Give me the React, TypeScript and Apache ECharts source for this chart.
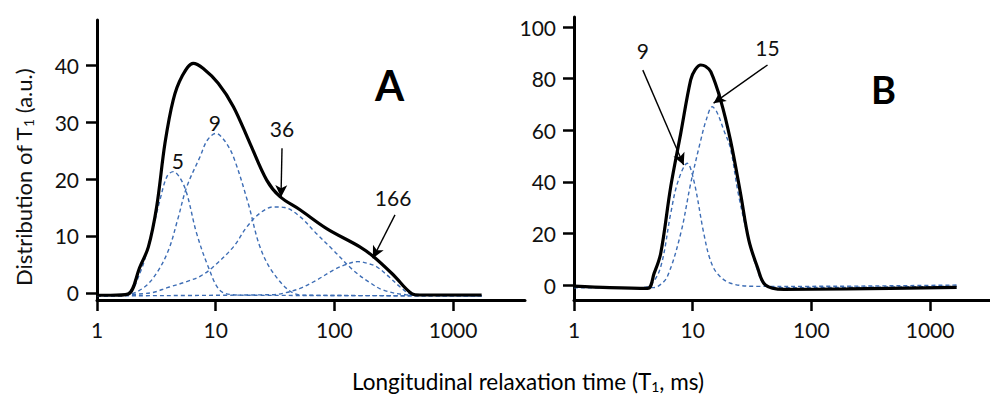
import React, { useEffect, useRef } from "react";
import * as echarts from "echarts";

// Panel A (x: T1 in ms, y: distribution a.u.)
const totalA: [number, number][] = [
  [1, -0.4], [1.3, -0.4], [1.82, -0.2], [2.3, 4.6], [2.71, 8.1], [3.18, 15.1], [3.74, 26.3],
  [4.39, 33.9], [5.17, 37.9], [6.47, 40.3], [7.86, 39.4], [10.5, 36.8], [14.1, 32.7],
  [19.4, 26.3], [26.9, 19.8], [34.8, 16.9], [51.3, 14.6], [86.1, 11.3], [164, 8.1],
  [213, 6.4], [313, 3.2], [448, -0.1], [526, -0.35], [1000, -0.35], [1740, -0.35],
];
const compA5: [number, number][] = [
  [1, -0.5], [1.3, -0.5], [1.8, -0.3], [2.3, 3.5], [2.8, 9.3], [3.39, 16.3], [3.9, 20.5],
  [4.39, 21.3], [5.0, 20.2], [5.7, 17.5], [6.9, 10.5], [8.65, 4.6], [10.8, 0.5], [14, -0.3],
  [20, -0.4], [1740, -0.5],
];
const compA9: [number, number][] = [
  [1, -0.5], [1.8, -0.3], [2.5, 1], [3.18, 3.5], [4.0, 7.5], [4.8, 13], [5.7, 18.6],
  [7.38, 23.9], [8.5, 26.8], [10.05, 28.0], [11.8, 26.8], [14.1, 23.9], [18.8, 15.7],
  [23.6, 8.1], [30.6, 3.5], [45, 0], [60, -0.4], [1740, -0.5],
];
const compA36: [number, number][] = [
  [1, -0.5], [2.8, 0], [4, 1], [5.7, 2.0], [7.5, 3], [9.55, 4.6], [14.1, 8.1], [18.3, 11.6],
  [23.6, 14], [30.6, 15.1], [38, 15], [51.3, 13.4], [70, 10.5], [98, 7.5], [144, 4.0],
  [200, 1.8], [259, 0.5], [400, -0.3], [600, -0.4], [1740, -0.5],
];
const compA166: [number, number][] = [
  [1, -0.5], [30, -0.3], [38, 0], [51.3, 0.8], [70, 2.2], [98, 4.0], [125, 5.0], [158, 5.5],
  [190, 5.2], [227, 4.6], [290, 2.8], [356, 1.1], [450, -0.3], [600, -0.4], [1740, -0.5],
];

// Panel B
const totalB: [number, number][] = [
  [1, -0.4], [2, -1], [4.16, -1.3], [4.73, 4.5], [5.38, 12.3], [6.53, 38.1], [7.93, 58.8],
  [9.62, 79.5], [10.5, 83.5], [11.7, 85.3], [12.8, 84.8], [14.2, 82.7], [17.2, 71.7],
  [20.8, 56.2], [25.3, 35.5], [29.7, 17.4], [35, 7.1], [41, 0], [58.5, -1.7], [200, -1.5],
  [1675, -0.9],
];
const compB9: [number, number][] = [
  [1, -1], [3.5, -1], [4.4, 0], [5.38, 7.1], [6.53, 27.8], [7.5, 40], [9.0, 47.2],
  [10.2, 40.7], [12.4, 20], [14, 10], [16.1, 4.5], [20.8, 0.7], [35, -0.5], [100, -0.5],
  [1675, 0],
];
const compB15: [number, number][] = [
  [1, -1], [4.5, -1], [5.1, -0.5], [6.1, 3.2], [7.93, 20], [9.62, 39.4], [11.7, 56.2],
  [13, 64], [14.6, 69.1], [16, 67], [18.3, 60], [20.8, 53], [24.2, 35.5], [29.7, 17.4],
  [35, 6], [41, 0], [58.5, -1], [1675, -0.5],
];

const xTicks = [1, 10, 100, 1000];
const yTicksA = [0, 10, 20, 30, 40];
const yTicksB = [0, 20, 40, 60, 80, 100];

// Annotations: label position and arrow (from -> to), in data coordinates
const labelsA = [
  { text: "5", at: [4.81, 23.2] },
  { text: "9", at: [9.85, 30] },
  { text: "36", at: [36.2, 28.8] },
  { text: "166", at: [312, 16.7] },
];
const arrowsA = [
  { from: [36.2, 25.4], to: [35.5, 16.8] },
  { from: [324, 13.7], to: [211, 6.1] },
];
const labelsB = [
  { text: "9", at: [3.8, 91.1] },
  { text: "15", at: [42.7, 92.2] },
];
const arrowsB = [
  { from: [3.8, 83.3], to: [8.4, 46.5] },
  { from: [42.7, 85.3], to: [15, 70.5] },
];

const FONT = "Lato, 'Open Sans', sans-serif";
const BLUE = "#3d6db5";
const INK = "#111";

const subRich = (size: number) => ({
  a: { fontSize: size, fontFamily: FONT, color: INK, lineHeight: 24, verticalAlign: "middle" },
  s: { fontSize: Math.round(size * 0.62), fontFamily: FONT, color: INK, lineHeight: 12, verticalAlign: "bottom" },
});

function xAxisCfg(gridIndex: number, max: number) {
  return {
    type: "log",
    gridIndex,
    min: 1,
    max,
    logBase: 10,
    axisLine: { onZero: false, lineStyle: { color: "#000", width: 3 } },
    axisTick: { customValues: xTicks, length: 11, lineStyle: { color: "#000", width: 2.5 } },
    axisLabel: {
      customValues: xTicks,
      margin: 19,
      color: INK,
      fontSize: 21,
      fontFamily: FONT,
      formatter: (v: number) => String(Math.round(v)),
    },
    splitLine: { show: false },
    minorTick: { show: false },
  };
}

function yAxisCfg(gridIndex: number, min: number, max: number, ticks: number[], name?: string) {
  return {
    type: "value",
    gridIndex,
    min,
    max,
    name,
    nameLocation: "middle",
    nameGap: 62,
    nameRotate: 90,
    nameTextStyle: {
      fontSize: 22,
      fontFamily: FONT,
      color: INK,
      rich: subRich(22),
      padding: [0, 35, 0, 0],
    },
    axisLine: { show: true, lineStyle: { color: "#000", width: 3 } },
    axisTick: { show: true, customValues: ticks, length: 11, lineStyle: { color: "#000", width: 2.5 } },
    axisLabel: { customValues: ticks, margin: 18, color: INK, fontSize: 21, fontFamily: FONT },
    splitLine: { show: false },
  };
}

function solid(data: [number, number][], idx: number) {
  return {
    type: "line",
    xAxisIndex: idx,
    yAxisIndex: idx,
    data,
    smooth: 0.35,
    symbol: "none",
    lineStyle: { color: "#000", width: 3.2 },
    z: 3,
  };
}
function dashed(data: [number, number][], idx: number) {
  return {
    type: "line",
    xAxisIndex: idx,
    yAxisIndex: idx,
    data,
    smooth: 0.35,
    symbol: "none",
    lineStyle: { color: BLUE, width: 1.4, type: [4, 3] },
    z: 2,
  };
}

function annotations(
  idx: number,
  labels: { text: string; at: number[] }[],
  arrows: { from: number[]; to: number[] }[]
) {
  return {
    type: "line",
    xAxisIndex: idx,
    yAxisIndex: idx,
    data: [],
    symbol: "none",
    silent: true,
    markPoint: {
      symbol: "circle",
      symbolSize: 0,
      label: { show: true, position: "inside", color: INK, fontSize: 21, fontFamily: FONT, formatter: "{b}" },
      data: labels.map((l) => ({ name: l.text, coord: l.at })),
    },
    markLine: {
      symbol: ["none", "arrow"],
      symbolSize: [9, 12],
      label: { show: false },
      lineStyle: { color: "#000", width: 1.4, type: "solid" },
      data: arrows.map((a) => [{ coord: a.from }, { coord: a.to }]),
    },
  };
}

export default function App() {
  const ref = useRef<HTMLDivElement>(null);
  useEffect(() => {
    if (!ref.current) return;
    const chart = echarts.init(ref.current, undefined, { renderer: "svg" });
    chart.setOption({
      animation: false,
      backgroundColor: "#fff",
      grid: [
        { left: 97, top: 20, width: 428, height: 280 },
        { left: 574, top: 17, width: 416, height: 283 },
      ],
      xAxis: [xAxisCfg(0, 4036), xAxisCfg(1, 3198)],
      yAxis: [
        yAxisCfg(0, -1.23, 47.9, yTicksA, "{a|Distribution of T}{s|1}{a| (a.u.)}"),
        yAxisCfg(1, -5.8, 103.9, yTicksB),
      ],
      graphic: [
        {
          type: "text",
          x: 528,
          y: 381,
          style: {
            text: "{a|Longitudinal relaxation time (T}{s|1}{a|, ms)}",
            rich: subRich(22.5),
            align: "center",
            verticalAlign: "middle",
          },
        },
        {
          type: "text",
          left: 375,
          top: 64,
          style: { text: "A", font: `bold 42px ${FONT}`, fill: "#000" },
        },
        {
          type: "text",
          left: 871,
          top: 70,
          style: { text: "B", font: `bold 38px ${FONT}`, fill: "#000" },
        },
      ],
      series: [
        dashed(compA5, 0),
        dashed(compA9, 0),
        dashed(compA36, 0),
        dashed(compA166, 0),
        solid(totalA, 0),
        annotations(0, labelsA, arrowsA),
        dashed(compB9, 1),
        dashed(compB15, 1),
        solid(totalB, 1),
        annotations(1, labelsB, arrowsB),
      ],
    });
    return () => chart.dispose();
  }, []);
  return (
    <div
      ref={ref}
      style={{ position: "absolute", left: 0, top: 0, width: 990, height: 394 }}
    />
  );
}
